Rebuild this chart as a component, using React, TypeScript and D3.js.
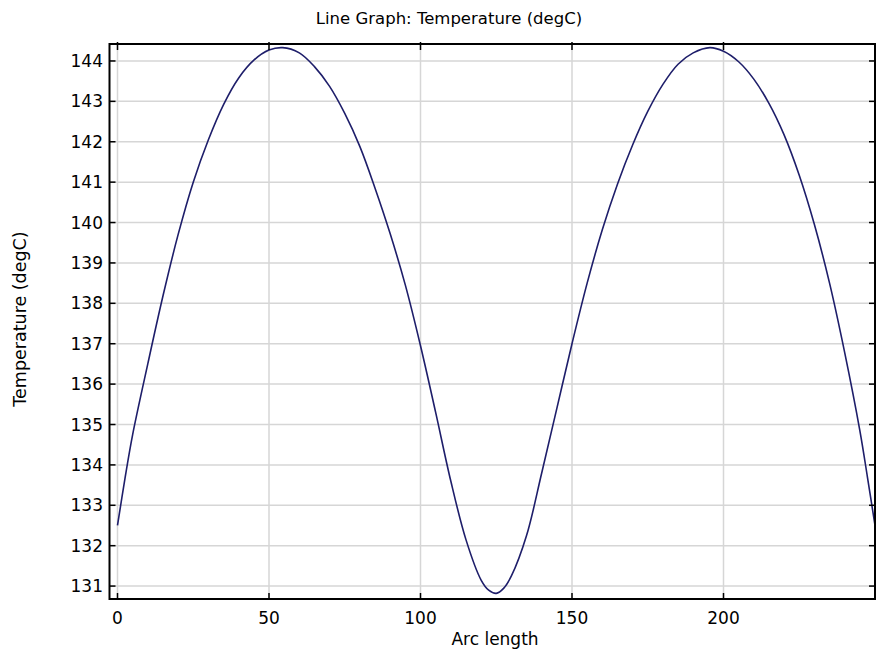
import React from "react";
import * as d3 from "d3";

const arcLength = [
  0, 2.5, 5, 10, 15, 20, 25, 30, 35, 40, 45, 50, 54.5,
  60, 65, 70, 75, 80, 85, 90, 95, 100, 105, 110, 115, 120, 122.5, 125,
  127.5, 130, 135, 140, 145, 150, 155, 160, 165, 170, 175, 180, 185, 190, 195.5,
  200, 205, 210, 215, 220, 225, 230, 235, 240, 245, 247.5, 250,
];
const temperature = [
  132.5, 133.68, 134.75, 136.5, 138.18, 139.7, 141.0, 142.05, 142.92, 143.58, 144.02, 144.27, 144.33,
  144.2, 143.86, 143.37, 142.7, 141.88, 140.85, 139.72, 138.45, 136.95, 135.3, 133.6, 132.15,
  131.15, 130.9, 130.82,
  130.95, 131.25, 132.25, 133.8, 135.4, 137.0, 138.5, 139.82, 140.95, 141.92, 142.75, 143.42,
  143.92, 144.2, 144.33,
  144.24, 143.98, 143.55, 142.95, 142.17, 141.17, 139.95, 138.5, 136.78, 134.85, 133.7, 132.5,
];
const xTicks = [0, 50, 100, 150, 200];
const yTicks = [131, 132, 133, 134, 135, 136, 137, 138, 139, 140, 141, 142, 143, 144];

const title = "Line Graph: Temperature (degC)";
const xLabel = "Arc length";
const yLabel = "Temperature (degC)";

export default function App() {
  const W = 876;
  const H = 651;
  const left = 109.5;
  const right = 875;
  const top = 44;
  const bottom = 599;
  const x = d3.scaleLinear().domain([-2.64, 250]).range([left, right]);
  const y = d3.scaleLinear().domain([130.68, 144.42]).range([bottom, top]);
  const data = arcLength.map((a, i) => [a, temperature[i]] as [number, number]);
  const line = d3
    .line<[number, number]>()
    .x((d) => x(d[0]))
    .y((d) => y(d[1]))
    .curve(d3.curveCatmullRom.alpha(0.5));
  const font = "'DejaVu Sans', sans-serif";
  const tickLen = 6;
  return (
    <svg
      width={W}
      height={H}
      style={{ position: "absolute", left: 0, top: 0, background: "#fff" }}
      fontFamily={font}
    >
      <rect x={0} y={0} width={W} height={H} fill="#fff" />
      {xTicks.map((t) => (
        <line key={"gx" + t} x1={x(t)} x2={x(t)} y1={top} y2={bottom} stroke="#d6d6d6" strokeWidth={1.5} />
      ))}
      {yTicks.map((t) => (
        <line key={"gy" + t} x1={left} x2={right} y1={y(t)} y2={y(t)} stroke="#d6d6d6" strokeWidth={1.5} />
      ))}
      <path d={line(data) || ""} fill="none" stroke="#1e1e6a" strokeWidth={1.6} />
      <rect x={left} y={top} width={right - left} height={bottom - top} fill="none" stroke="#000" strokeWidth={2} />
      {xTicks.map((t) => (
        <g key={"tx" + t}>
          <line x1={x(t)} x2={x(t)} y1={bottom} y2={bottom - tickLen} stroke="#000" strokeWidth={1.5} />
          <line x1={x(t)} x2={x(t)} y1={top - 2} y2={top + tickLen} stroke="#000" strokeWidth={1.5} />
          <text x={x(t)} y={624} textAnchor="middle" fontSize={17} fill="#000">
            {t}
          </text>
        </g>
      ))}
      {yTicks.map((t) => (
        <g key={"ty" + t}>
          <line x1={left} x2={left + tickLen} y1={y(t)} y2={y(t)} stroke="#000" strokeWidth={1.5} />
          <line x1={right} x2={right - tickLen} y1={y(t)} y2={y(t)} stroke="#000" strokeWidth={1.5} />
          <text x={103} y={y(t) + 6} textAnchor="end" fontSize={17} fill="#000">
            {t}
          </text>
        </g>
      ))}
      <text x={449} y={24} textAnchor="middle" fontSize={16.5} fill="#000">
        {title}
      </text>
      <text x={495} y={645} textAnchor="middle" fontSize={17} fill="#000">
        {xLabel}
      </text>
      <text
        transform={`translate(26, 319) rotate(-90)`}
        textAnchor="middle"
        fontSize={17.5}
        fill="#000"
      >
        {yLabel}
      </text>
    </svg>
  );
}
